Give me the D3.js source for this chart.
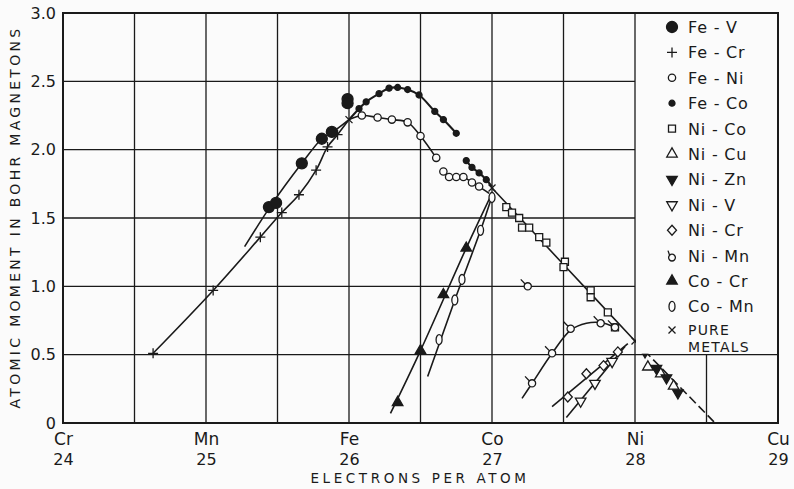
<!DOCTYPE html>
<html>
<head>
<meta charset="utf-8">
<script src="https://cdn.jsdelivr.net/npm/d3@7"></script>
<style>
  html, body { margin: 0; padding: 0; background: #fbfbfb; }
  svg { display: block; font-family: "DejaVu Sans", sans-serif; }
</style>
</head>
<body>
<svg width="794" height="489"></svg>
<script>
const width = 794;
const height = 489;

// electrons per atom / atomic moment (Bohr magnetons)
const elements = ['Cr', 'Mn', 'Fe', 'Co', 'Ni', 'Cu'];
const electronTicks = [24, 25, 26, 27, 28, 29];
const momentTicks = [0, 0.5, 1.0, 1.5, 2.0, 2.5, 3.0];

// drawn curves
const feCrLine = [[24.63, 0.51], [25.05, 0.97], [25.38, 1.36], [25.53, 1.54], [25.65, 1.67], [25.77, 1.85], [25.85, 2.02], [25.92, 2.11], [26.0, 2.22]];
const feVLine = [[25.27, 1.29], [25.46, 1.60], [25.67, 1.90], [25.81, 2.08], [25.9, 2.14], [26.0, 2.22]];
const feCoLine = [[26.0, 2.22], [26.07, 2.30], [26.12, 2.35], [26.21, 2.41], [26.28, 2.45], [26.34, 2.455], [26.41, 2.44], [26.49, 2.40], [26.60, 2.28], [26.66, 2.22], [26.75, 2.12]];
const feCoLine2 = [[26.82, 1.92], [26.86, 1.87], [26.91, 1.83], [26.96, 1.78], [27.0, 1.73]];
const feNiLine = [[26.0, 2.22], [26.09, 2.25], [26.20, 2.235], [26.30, 2.22], [26.41, 2.20], [26.50, 2.10], [26.61, 1.94]];
const feNiLine2 = [[26.66, 1.84], [26.70, 1.80], [26.75, 1.80], [26.80, 1.80], [26.86, 1.76], [26.91, 1.73], [26.98, 1.68]];
const niCoLine = [[27.0, 1.72], [27.5, 1.16], [28.0, 0.6]];
const coCrLine = [[26.29, 0.07], [26.50, 0.53], [26.82, 1.28], [27.0, 1.68]];
const coMnLine = [[26.55, 0.34], [26.74, 0.90], [26.92, 1.41], [27.0, 1.66]];
const niMnLine = [[27.21, 0.18], [27.28, 0.29], [27.42, 0.51], [27.55, 0.68], [27.66, 0.73], [27.76, 0.735], [27.86, 0.70]];
const niCrLine = [[27.42, 0.12], [27.95, 0.58]];
const niVLine = [[27.52, 0.04], [27.93, 0.56]];
const niCuLine = [[28.0, 0.6], [28.56, 0]];

// plotted measurements
const feV = [[25.44, 1.58], [25.49, 1.61], [25.67, 1.90], [25.81, 2.08], [25.88, 2.13], [25.99, 2.37], [25.99, 2.34]];
const feCr = [[24.63, 0.51], [25.05, 0.97], [25.38, 1.36], [25.53, 1.54], [25.65, 1.67], [25.77, 1.85], [25.85, 2.02], [25.92, 2.11]];
const feNi = [[26.09, 2.25], [26.20, 2.235], [26.30, 2.22], [26.41, 2.20], [26.50, 2.10], [26.61, 1.94], [26.66, 1.84], [26.70, 1.80], [26.75, 1.80], [26.80, 1.80], [26.86, 1.76], [26.91, 1.73]];
const feCo = [[26.07, 2.30], [26.12, 2.35], [26.21, 2.41], [26.28, 2.45], [26.34, 2.455], [26.41, 2.44], [26.49, 2.40], [26.60, 2.28], [26.66, 2.22], [26.75, 2.12], [26.82, 1.92], [26.86, 1.87], [26.91, 1.83], [26.96, 1.78]];
const niCo = [[27.10, 1.58], [27.14, 1.54], [27.19, 1.50], [27.21, 1.43], [27.26, 1.43], [27.33, 1.36], [27.38, 1.32], [27.51, 1.18], [27.50, 1.14], [27.69, 0.97], [27.69, 0.92], [27.81, 0.81], [27.86, 0.70]];
const niCu = [[28.09, 0.41], [28.18, 0.36], [28.27, 0.27]];
const niZn = [[28.07, 0.52], [28.15, 0.40], [28.22, 0.33], [28.30, 0.22]];
const niV = [[27.62, 0.16], [27.72, 0.29], [27.84, 0.45]];
const niCr = [[27.53, 0.19], [27.66, 0.36], [27.78, 0.42], [27.88, 0.52]];
const niMn = [[27.25, 1.0], [27.28, 0.29], [27.42, 0.51], [27.55, 0.69], [27.76, 0.73], [27.86, 0.70]];
const coCr = [[26.34, 0.15], [26.50, 0.53], [26.66, 0.94], [26.82, 1.28]];
const coMn = [[26.63, 0.61], [26.74, 0.90], [26.79, 1.05], [26.92, 1.41], [27.0, 1.65]];
const pureMetals = [[26.0, 2.22], [27.0, 1.72], [28.0, 0.6]];

const legendNames = ['Fe - V', 'Fe - Cr', 'Fe - Ni', 'Fe - Co', 'Ni - Co', 'Ni - Cu', 'Ni - Zn', 'Ni - V', 'Ni - Cr', 'Ni - Mn', 'Co - Cr', 'Co - Mn', 'PURE'];

const ink = '#1a1a1a';
const paper = '#fbfbfb';

const svg = d3.select('svg');

const x = d3.scaleLinear().domain([24, 29]).range([63, 778]);
const y = d3.scaleLinear().domain([0, 3]).range([423, 13]);

// grid
const grid = svg.append('g').attr('stroke', ink).attr('stroke-width', 1.3).attr('fill', 'none');
d3.range(24.5, 28.01, 0.5).forEach(v => {
  grid.append('line').attr('x1', x(v)).attr('x2', x(v)).attr('y1', y(0)).attr('y2', y(3));
});
grid.append('line').attr('x1', x(28.5)).attr('x2', x(28.5)).attr('y1', y(0)).attr('y2', y(0.5));
[1.0, 1.5, 2.0, 2.5].forEach(v => {
  grid.append('line').attr('x1', x(24)).attr('x2', x(28)).attr('y1', y(v)).attr('y2', y(v));
});
grid.append('line').attr('x1', x(24)).attr('x2', x(29)).attr('y1', y(0.5)).attr('y2', y(0.5));
svg.append('rect')
  .attr('x', x(24)).attr('y', y(3))
  .attr('width', x(29) - x(24)).attr('height', y(0) - y(3))
  .attr('fill', 'none').attr('stroke', ink).attr('stroke-width', 2);

// axes
const yAxis = svg.append('g')
  .attr('transform', `translate(${x(24)},0)`)
  .call(d3.axisLeft(y).tickValues(momentTicks).tickSize(0).tickPadding(7)
    .tickFormat(d => d === 0 ? '0' : d3.format('.1f')(d)));
yAxis.select('.domain').remove();
yAxis.selectAll('text').attr('font-size', 16).attr('fill', ink).attr('font-family', 'DejaVu Sans');

const xAxis = svg.append('g')
  .attr('transform', `translate(0,${y(0)})`)
  .call(d3.axisBottom(x).tickValues(electronTicks).tickSize(0).tickPadding(10)
    .tickFormat((d, i) => elements[i]));
xAxis.select('.domain').remove();
xAxis.selectAll('text').attr('font-size', 17).attr('fill', ink).attr('font-family', 'DejaVu Sans');
xAxis.selectAll('.tick').append('text')
  .attr('y', 42).attr('fill', ink)
  .attr('font-size', 16).attr('font-family', 'DejaVu Sans')
  .attr('text-anchor', 'middle')
  .text(d => d);

svg.append('text')
  .attr('x', 420).attr('y', 483)
  .attr('text-anchor', 'middle')
  .attr('font-size', 13.5).attr('letter-spacing', 3.6)
  .attr('fill', ink)
  .text('ELECTRONS PER ATOM');

svg.append('text')
  .attr('transform', 'translate(20,217) rotate(-90)')
  .attr('text-anchor', 'middle')
  .attr('font-size', 14).attr('letter-spacing', 3.3)
  .attr('fill', ink)
  .text('ATOMIC MOMENT IN BOHR MAGNETONS');

// curves
const line = d3.line().x(d => x(d[0])).y(d => y(d[1])).curve(d3.curveCatmullRom.alpha(0.5));
const curves = svg.append('g').attr('fill', 'none').attr('stroke', ink).attr('stroke-width', 1.6);
[feCrLine, feVLine, feNiLine, feNiLine2, niCoLine, coCrLine, coMnLine, niMnLine, niCrLine, niVLine].forEach(c => {
  curves.append('path').attr('d', line(c));
});
[feCoLine, feCoLine2].forEach(c => {
  curves.append('path').attr('d', line(c)).attr('stroke-width', 2.1);
});
curves.append('path').attr('d', line(niCuLine)).attr('stroke-dasharray', '9,4');

// markers
const markerPath = {
  bigDot: d3.symbol(d3.symbolCircle, 95)(),
  plus: 'M-5,0H5M0,-5V5',
  openCircle: d3.symbol(d3.symbolCircle, 42)(),
  smallDot: d3.symbol(d3.symbolCircle, 28)(),
  square: 'M-3.5,-3.5H3.5V3.5H-3.5Z',
  triUp: d3.symbol(d3.symbolTriangle, 48)(),
  triDown: d3.symbol(d3.symbolTriangle, 48)(),
  openTriDown: d3.symbol(d3.symbolTriangle, 48)(),
  diamond: 'M0,-5L4.5,0L0,5L-4.5,0Z',
  tickCircle: 'M-3.6,0A3.6,3.6 0 1,0 3.6,0A3.6,3.6 0 1,0 -3.6,0M-2.6,-2.4L-7,-7',
  filledTriUp: d3.symbol(d3.symbolTriangle, 48)(),
  ellipse: 'M-3,0A3,5 0 1,0 3,0A3,5 0 1,0 -3,0',
  cross: 'M-3.5,-3.5L3.5,3.5M3.5,-3.5L-3.5,3.5'
};
const markerFill = {
  bigDot: ink, plus: 'none', openCircle: paper, smallDot: ink, square: paper,
  triUp: paper, triDown: ink, openTriDown: paper, diamond: paper, tickCircle: paper,
  filledTriUp: ink, ellipse: paper, cross: 'none'
};
const rotation = { triDown: 180, openTriDown: 180 };

// same order as the legend
const layers = [
  [feV, 'bigDot'], [feCr, 'plus'], [feNi, 'openCircle'], [feCo, 'smallDot'],
  [niCo, 'square'], [niCu, 'triUp'], [niZn, 'triDown'], [niV, 'openTriDown'],
  [niCr, 'diamond'], [niMn, 'tickCircle'], [coCr, 'filledTriUp'], [coMn, 'ellipse'],
  [pureMetals, 'cross']
];

function drawMarkers(g, pts, type) {
  g.selectAll(null)
    .data(pts)
    .enter()
    .append('path')
      .attr('transform', d => `translate(${x(d[0])},${y(d[1])}) rotate(${rotation[type] || 0})`)
      .attr('d', markerPath[type])
      .attr('fill', markerFill[type])
      .attr('stroke', ink)
      .attr('stroke-width', 1.3);
}

const marks = svg.append('g');
[1, 0, 2, 3, 4, 5, 6, 7, 8, 9, 10, 11, 12].forEach(i => drawMarkers(marks, layers[i][0], layers[i][1]));

// legend (top right cell of the frame)
const legend = svg.append('g');
legend.append('rect')
  .attr('x', x(28) + 1).attr('y', y(3) + 1)
  .attr('width', x(29) - x(28) - 2).attr('height', y(0.5) - y(3) - 2)
  .attr('fill', paper);
legendNames.forEach((name, i) => {
  const type = layers[i][1];
  const ly = i < 12 ? 27 + i * 25.4 : 330;
  legend.append('path')
    .attr('transform', `translate(672,${ly}) rotate(${rotation[type] || 0})`)
    .attr('d', type === 'tickCircle' ? 'M-3.4,2A3.4,3.4 0 1,0 3.4,2A3.4,3.4 0 1,0 -3.4,2M-2.4,-0.4L-4,-5' : markerPath[type])
    .attr('fill', markerFill[type])
    .attr('stroke', ink)
    .attr('stroke-width', 1.3);
  legend.append('text')
    .attr('x', 688).attr('y', ly + (i < 12 ? 6 : 5))
    .attr('font-size', i < 12 ? 16 : 14).attr('letter-spacing', i < 12 ? 0.8 : 1.2)
    .attr('fill', ink)
    .text(name);
});
legend.append('text')
  .attr('x', 688).attr('y', 352)
  .attr('font-size', 14).attr('letter-spacing', 1.2)
  .attr('fill', ink)
  .text('METALS');
</script>
</body>
</html>
